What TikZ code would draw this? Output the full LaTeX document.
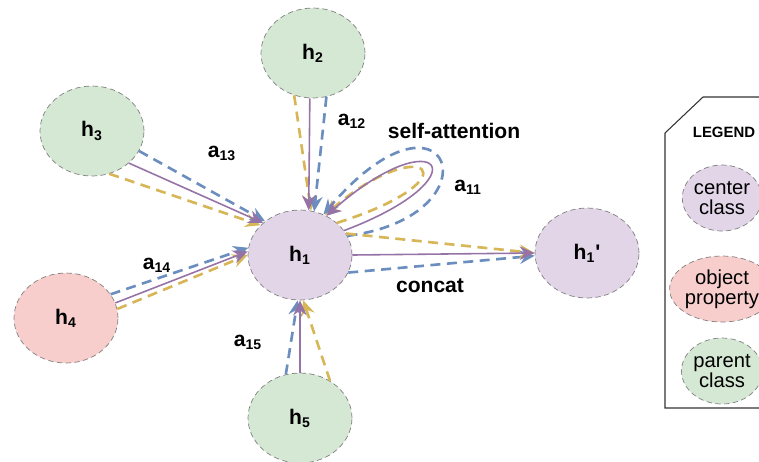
\documentclass[tikz,border=0pt]{standalone}
\usepackage{fontspec}
\setmainfont{Liberation Sans}
\usetikzlibrary{arrows.meta,shapes.geometric}
\definecolor{clsgreen}{HTML}{D5E8D4}
\definecolor{clsred}{HTML}{F8CECC}
\definecolor{clspurple}{HTML}{E1D5E7}
\definecolor{edgeblue}{HTML}{6C8EBF}
\definecolor{edgegold}{HTML}{D6B656}
\definecolor{edgepurple}{HTML}{9673A6}

\begin{document}
\begin{tikzpicture}[x=0.02cm,y=-0.02cm,
    cls/.style={ellipse,draw=black!50,densely dashed,thin,inner sep=0pt,minimum width=2.08cm,minimum height=1.8cm,font=\fontsize{12}{14}\selectfont\bfseries},
    lgcls/.style={ellipse,draw=black!50,densely dashed,thin,inner sep=0pt,minimum width=1.52cm,minimum height=1.32cm,align=center,font=\fontsize{11.5}{11.5}\selectfont},
    arr/.style={-{Stealth[length=3mm,width=2.7mm,inset=1mm]}},
    attb/.style={arr,edgeblue,line width=1.5pt,dash pattern=on 2mm off 1.3mm},
    attg/.style={arr,edgegold,line width=1.5pt,dash pattern=on 2mm off 1.3mm},
    attp/.style={arr,edgepurple,line width=0.9pt},
    lbl/.style={font=\fontsize{12}{14}\selectfont\bfseries}
]
\clip (0,0) rectangle (759,461);
% classes
\node[cls,fill=clspurple] (h1) at (300,255) {h\textsubscript{1}};
\node[cls,fill=clsgreen] (h2) at (313,53) {h\textsubscript{2}};
\node[cls,fill=clsgreen] (h3) at (92,131) {h\textsubscript{3}};
\node[cls,fill=clsred] (h4) at (66,318) {h\textsubscript{4}};
\node[cls,fill=clsgreen] (h5) at (300,418) {h\textsubscript{5}};
\node[cls,fill=clspurple] (h1p) at (587,253) {h\textsubscript{1}\textquotesingle};
% attention edges
\draw[attg] (h2.246) -- (h1.76);
\draw[attb] (h2.287) -- (h1.72);
\draw[attp] (h2.266) -- (h1.79);
\draw[attg] (h3.292) -- (h1.143);
\draw[attb] (h3.337) -- (h1.136);
\draw[attp] (h3.319) -- (h1.139);
\draw[attg] (h4.10) -- (h1.180);
\draw[attb] (h4.28) -- (h1.172);
\draw[attp] (h4.17) -- (h1.176);
\draw[attg] (h5.51) -- (h1.274);
\draw[attb] (h5.108) -- (h1.267);
\draw[attp] (h5.90) -- (h1.270);
% self-attention loop
\draw[attg] (h1.41) .. controls (479,178) and (423,130) .. (h1.58);
\draw[attb] (h1.22) .. controls (502,216) and (449,67) .. (h1.60);
\draw[attp] (h1.29) .. controls (486,177) and (438,117) .. (h1.56);
% concat
\draw[attb] (h1.340) -- (h1p.183);
\draw[attg] (h1.25) -- (h1p.180);
\draw[attp] (h1.0) -- (h1p.180);
% labels
\node[lbl] (a12) at (352,121) {a\textsubscript{12}};
\node[lbl] (a13) at (222,153) {a\textsubscript{13}};
\node[lbl] (a14) at (157,265) {a\textsubscript{14}};
\node[lbl] (a15) at (248,342) {a\textsubscript{15}};
\node[lbl] (a11) at (468,187) {a\textsubscript{11}};
\node[lbl] (selfatt) at (454,131) {self-attention};
\node[lbl] (concat) at (430,286) {concat};
% legend
\draw[black!80,line width=0.6pt] (780,97) -- (703,97) -- (665,133) -- (665,408) -- (780,408);
\node[font=\fontsize{8.5}{10}\selectfont\bfseries] (legend) at (724,132) {LEGEND};
\node[lgcls,fill=clspurple] (lgcenter) at (722,198) {center\\class};
\node[lgcls,fill=clsred] (lgobject) at (722,289) {object\\property};
\node[lgcls,fill=clsgreen] (lgparent) at (722,371) {parent\\class};
\end{tikzpicture}
\end{document}
